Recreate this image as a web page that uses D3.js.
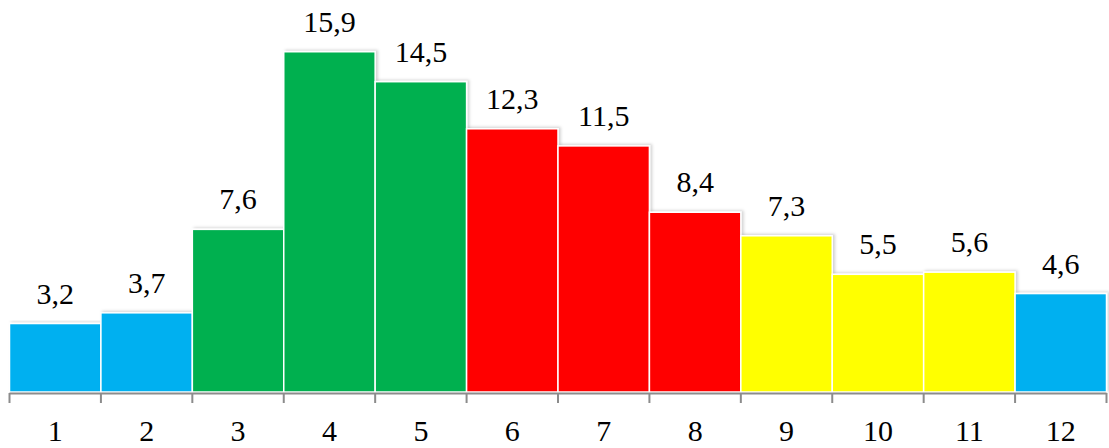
<!DOCTYPE html>
<html>
<head>
  <meta charset="utf-8">
  <title>Bar chart</title>
  <script src="https://d3js.org/d3.v7.min.js"></script>
  <style>
    body { margin: 0; background: #fff; }
  </style>
</head>
<body>
  <div id="chart"></div>
  <script>
    // data
    var categories = ["1", "2", "3", "4", "5", "6", "7", "8", "9", "10", "11", "12"];
    var values = [3.2, 3.7, 7.6, 15.9, 14.5, 12.3, 11.5, 8.4, 7.3, 5.5, 5.6, 4.6];
    var barColors = ["#00B0F0", "#00B0F0", "#00B050", "#00B050", "#00B050", "#FF0000",
                     "#FF0000", "#FF0000", "#FFFF00", "#FFFF00", "#FFFF00", "#00B0F0"];

    var serif = "'Liberation Serif', 'Times New Roman', serif";

    var svg = d3.select("#chart")
      .append("svg")
      .attr("width", 1109)
      .attr("height", 448);

    // soft shadow like the original
    var defs = svg.append("defs");
    var f = defs.append("filter").attr("id", "shadow")
      .attr("x", "-5%").attr("y", "-5%").attr("width", "115%").attr("height", "115%");
    f.append("feDropShadow").attr("dx", 2).attr("dy", -1).attr("stdDeviation", 1.5)
      .attr("flood-color", "#000").attr("flood-opacity", 0.18);

    var x = d3.scaleBand()
      .domain(categories)
      .range([9.5, 1106.5])
      .padding(0);

    var y = d3.scaleLinear()
      .domain([0, 16])
      .range([392, 49.6]);

    // bars
    svg.append("g")
      .selectAll("rect")
      .data(values)
      .enter()
      .append("rect")
      .attr("x", function(d, i) { return x(categories[i]); })
      .attr("y", function(d) { return y(d); })
      .attr("width", x.bandwidth())
      .attr("height", function(d) { return y(0) - y(d); })
      .attr("fill", function(d, i) { return barColors[i]; })
      .attr("stroke", "#fff")
      .attr("stroke-width", 1.5)
      .attr("filter", "url(#shadow)");

    // value labels
    svg.append("g")
      .selectAll("text")
      .data(values)
      .enter()
      .append("text")
      .attr("x", function(d, i) { return x(categories[i]) + x.bandwidth() / 2; })
      .attr("y", function(d) { return y(d) - 20; })
      .attr("text-anchor", "middle")
      .attr("font-family", serif)
      .attr("font-size", 30)
      .attr("fill", "#000")
      .text(function(d) { return d.toFixed(1).replace(".", ","); });

    // x axis: ticks between categories
    var axis = svg.append("g");
    axis.append("line")
      .attr("x1", x.range()[0]).attr("x2", x.range()[1])
      .attr("y1", 393.5).attr("y2", 393.5)
      .attr("stroke", "#8c8c8c").attr("stroke-width", 2);

    var bounds = categories.map(function(c) { return x(c); }).concat([x.range()[1]]);
    axis.selectAll(".tick")
      .data(bounds)
      .enter()
      .append("line")
      .attr("class", "tick")
      .attr("x1", function(d) { return d; }).attr("x2", function(d) { return d; })
      .attr("y1", 393).attr("y2", 403)
      .attr("stroke", "#8c8c8c").attr("stroke-width", 2);

    axis.selectAll(".lbl")
      .data(categories)
      .enter()
      .append("text")
      .attr("class", "lbl")
      .attr("x", function(d) { return x(d) + x.bandwidth() / 2; })
      .attr("y", 441)
      .attr("text-anchor", "middle")
      .attr("font-family", serif)
      .attr("font-size", 30)
      .attr("fill", "#000")
      .text(function(d) { return d; });
  </script>
</body>
</html>
